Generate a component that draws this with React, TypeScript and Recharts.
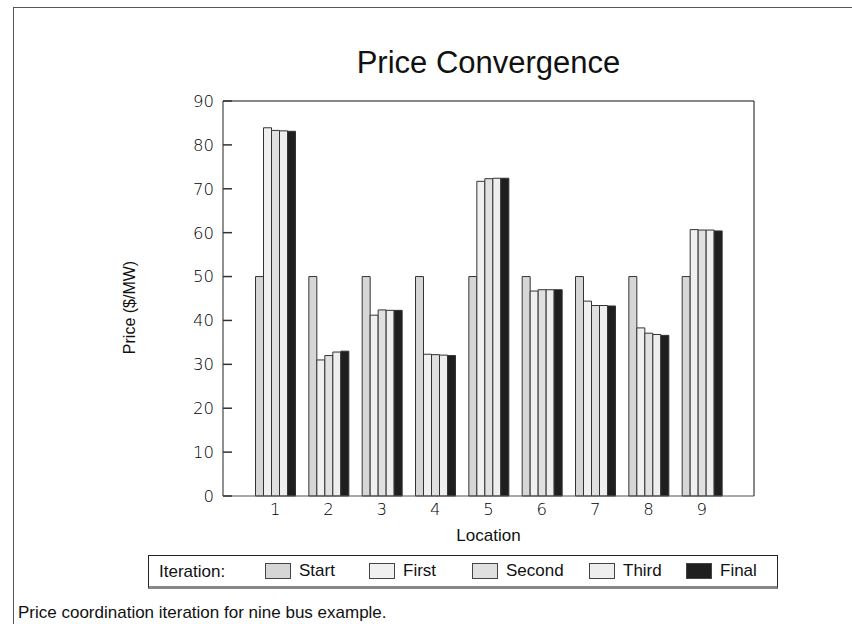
import { BarChart, Bar, XAxis, YAxis, Label } from "recharts";

const locations = ["1", "2", "3", "4", "5", "6", "7", "8", "9"];
const start = [50, 50, 50, 50, 50, 50, 50, 50, 50];
const first = [83.9, 31.0, 41.2, 32.3, 71.7, 46.7, 44.4, 38.3, 60.7];
const second = [83.3, 32.0, 42.4, 32.2, 72.3, 47.0, 43.4, 37.1, 60.6];
const third = [83.2, 32.8, 42.3, 32.1, 72.4, 47.0, 43.4, 36.8, 60.6];
const final = [83.1, 33.0, 42.3, 32.0, 72.4, 47.0, 43.3, 36.6, 60.4];
const yTicks = [0, 10, 20, 30, 40, 50, 60, 70, 80, 90];

const series = [
  { key: "start", name: "Start", fill: "#d6d6d6" },
  { key: "first", name: "First", fill: "#f0f0f0" },
  { key: "second", name: "Second", fill: "#e0e0e0" },
  { key: "third", name: "Third", fill: "#eeeeee" },
  { key: "final", name: "Final", fill: "#1f1f1f" },
];

const data = locations.map((loc, i) => ({
  loc,
  start: start[i],
  first: first[i],
  second: second[i],
  third: third[i],
  final: final[i],
}));

const tickFont = "'DejaVu Sans ExtraLight', 'DejaVu Sans', sans-serif";
const textFont = "'Liberation Sans', Arial, sans-serif";

function YTick({ x, y, payload }: any) {
  return (
    <g>
      <line x1={x} x2={x + 9} y1={y} y2={y} stroke="#333" strokeWidth={1.5} />
      <text x={x - 9} y={y} dy="0.36em" textAnchor="end" fontFamily={tickFont} fontWeight={200} fontSize={16.5} fill="#000">
        {payload.value}
      </text>
    </g>
  );
}

// legend item left offsets inside the legend box
const legendLefts = [116, 220, 323, 440, 537];

export default function App() {
  return (
    <div style={{ position: "absolute", left: 0, top: 0, width: 852, height: 624, background: "#fff", fontFamily: textFont }}>
      <div style={{ position: "absolute", left: 13, top: 7, right: 0, bottom: 0, borderLeft: "1px solid #555", borderTop: "1px solid #555" }} />
      <div style={{ position: "absolute", left: 0, top: 0 }}>
        <BarChart width={852} height={624} data={data} margin={{ top: 100, right: 97, bottom: 68, left: 113 }} barSize={8} barGap={0}>
          <text x={488.5} y={73} textAnchor="middle" fontFamily={textFont} fontSize={31} fill="#111">
            Price Convergence
          </text>
          <XAxis
            dataKey="loc"
            height={60}
            padding={{ left: 25.5, right: 25.5 }}
            stroke="#555"
            tickLine={false}
            tickSize={0}
            tickMargin={7}
            tick={{ fontFamily: tickFont, fontWeight: 200, fontSize: 16.5, fill: "#000" }}
          >
            <Label value="Location" position="insideTop" offset={33} fontFamily={textFont} fontSize={17} fill="#111" />
          </XAxis>
          <XAxis xAxisId="top" dataKey="loc" orientation="top" height={1} tick={false} tickLine={false} stroke="#888" strokeWidth={2} />
          <YAxis
            domain={[0, 90]}
            ticks={yTicks}
            width={110}
            stroke="#222"
            tickLine={false}
            tickSize={0}
            tickMargin={0}
            tick={YTick}
          >
            <Label
              content={({ viewBox }: any) => (
                <text
                  x={viewBox.x + 22}
                  y={viewBox.y + viewBox.height / 2 + 9}
                  transform={`rotate(-90, ${viewBox.x + 22}, ${viewBox.y + viewBox.height / 2 + 9})`}
                  textAnchor="middle"
                  fontFamily={textFont}
                  fontSize={16}
                  fill="#111"
                >
                  Price ($/MW)
                </text>
              )}
            />
          </YAxis>
          <YAxis yAxisId="r" orientation="right" domain={[0, 90]} width={1} tick={false} tickLine={false} stroke="#111" />
          {series.map((s) => (
            <Bar key={s.key} dataKey={s.key} name={s.name} fill={s.fill} stroke="#333" strokeWidth={1} isAnimationActive={false} />
          ))}
        </BarChart>
      </div>
      <div
        style={{
          position: "absolute",
          left: 148,
          top: 555,
          width: 628,
          height: 30,
          borderTop: "1px solid #222",
          borderLeft: "1px solid #222",
          borderRight: "1px solid #222",
          borderBottom: "3px solid #888",
          fontSize: 17,
          color: "#111",
        }}
      >
        <span style={{ position: "absolute", left: 10, top: 6 }}>Iteration:</span>
        {series.map((s, i) => (
          <div key={s.key} style={{ position: "absolute", left: legendLefts[i], top: 7, display: "flex", alignItems: "center" }}>
            <div style={{ width: 26, height: 16, background: s.fill, border: "1px solid #444", boxSizing: "border-box" }} />
            <span style={{ marginLeft: 8, lineHeight: "16px" }}>{s.name}</span>
          </div>
        ))}
      </div>
      <div style={{ position: "absolute", left: 18, top: 603, fontSize: 17, color: "#111" }}>
        Price coordination iteration for nine bus example.
      </div>
    </div>
  );
}
